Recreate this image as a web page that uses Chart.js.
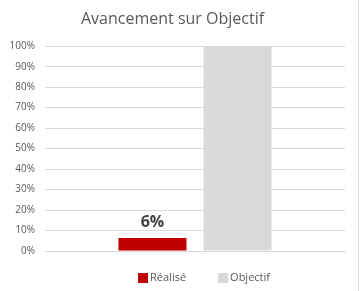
<!DOCTYPE html>
<html>
<head>
<meta charset="utf-8">
<script src="https://cdn.jsdelivr.net/npm/chart.js@4"></script>
<style>
	html, body { margin: 0; padding: 0; background: #fff; }
	#wrap { width: 361px; height: 291px; position: relative; }
	#edge { position: absolute; right: 2px; top: 0; width: 1px; height: 291px; background: #d9d9d9; }
</style>
</head>
<body>
<div id="wrap">
	<canvas id="myChart" width="361" height="291"></canvas>
	<div id="edge"></div>
</div>
<script>
var categories = [''];
var seriesNames = ['Réalisé', 'Objectif'];
var realise = [0.064];
var objectif = [1];
var couleurs = ['#c00000', '#d9d9d9'];

var policeExcel = "'Open Sans', 'Noto Sans', sans-serif";

// etiquette au-dessus de la barre Réalisé
var etiquettes = {
	id: 'etiquettes',
	afterDatasetsDraw: function(chart){
		var ctx = chart.ctx;
		var meta = chart.getDatasetMeta(0);
		meta.data.forEach(function(bar, i){
			var v = chart.data.datasets[0].data[i];
			ctx.save();
			ctx.font = 'bold 16px ' + policeExcel;
			ctx.fillStyle = '#404040';
			ctx.textAlign = 'center';
			ctx.textBaseline = 'middle';
			ctx.fillText(Math.round(v * 100) + '%', bar.x, bar.y - 15);
			ctx.restore();
		});
	}
};

// legende dessinee a la main (espacement facon Excel)
var legendeExcel = {
	id: 'legendeExcel',
	afterDraw: function(chart){
		var ctx = chart.ctx;
		var ds = chart.data.datasets;
		var y = 278;
		var ecart = 32;
		ctx.save();
		ctx.font = '11px ' + policeExcel;
		var largeurs = ds.map(function(d){ return 12 + ctx.measureText(d.label).width; });
		var total = largeurs.reduce(function(a, b){ return a + b; }, 0) + ecart * (ds.length - 1);
		var x = 204 - total / 2;
		ds.forEach(function(d, i){
			ctx.fillStyle = d.backgroundColor;
			ctx.fillRect(x, y - 5, 10, 10);
			ctx.fillStyle = '#595959';
			ctx.textAlign = 'left';
			ctx.textBaseline = 'middle';
			ctx.fillText(d.label, x + 12, y);
			x += largeurs[i] + ecart;
		});
		ctx.restore();
	}
};

function renderChart(){
	var ctx = document.getElementById('myChart').getContext('2d');
	var myChart = new Chart(ctx, {
		type: 'bar',
		data: {
			labels: categories,
			datasets: [{
				label: seriesNames[0],
				data: realise,
				backgroundColor: couleurs[0],
				categoryPercentage: 0.567,
				barPercentage: 0.8
			}, {
				label: seriesNames[1],
				data: objectif,
				backgroundColor: couleurs[1],
				categoryPercentage: 0.567,
				barPercentage: 0.8
			}]
		},
		options: {
			responsive: false,
			animation: false,
			layout: { padding: { left: 0, right: 16, top: 0, bottom: 40 } },
			plugins: {
				title: {
					display: true,
					text: 'Avancement sur Objectif',
					color: '#595959',
					font: { family: policeExcel, size: 16, weight: 'normal' },
					padding: { top: 10, bottom: 17 }
				},
				legend: { display: false },
				tooltip: { enabled: false }
			},
			scales: {
				x: {
					ticks: { display: false },
					grid: { display: false },
					border: { display: true, color: '#d9d9d9' },
					afterFit: function(scale){ scale.height = 0; }
				},
				y: {
					min: 0,
					max: 1,
					ticks: {
						stepSize: 0.1,
						color: '#595959',
						font: { family: policeExcel, size: 10 },
						padding: 10,
						callback: function(v){ return Math.round(v * 100) + '%'; }
					},
					grid: { color: '#d9d9d9', drawTicks: false },
					border: { display: false },
					afterFit: function(scale){ scale.width = 45; }
				}
			}
		},
		plugins: [etiquettes, legendeExcel]
	});
}

renderChart();
</script>
</body>
</html>
